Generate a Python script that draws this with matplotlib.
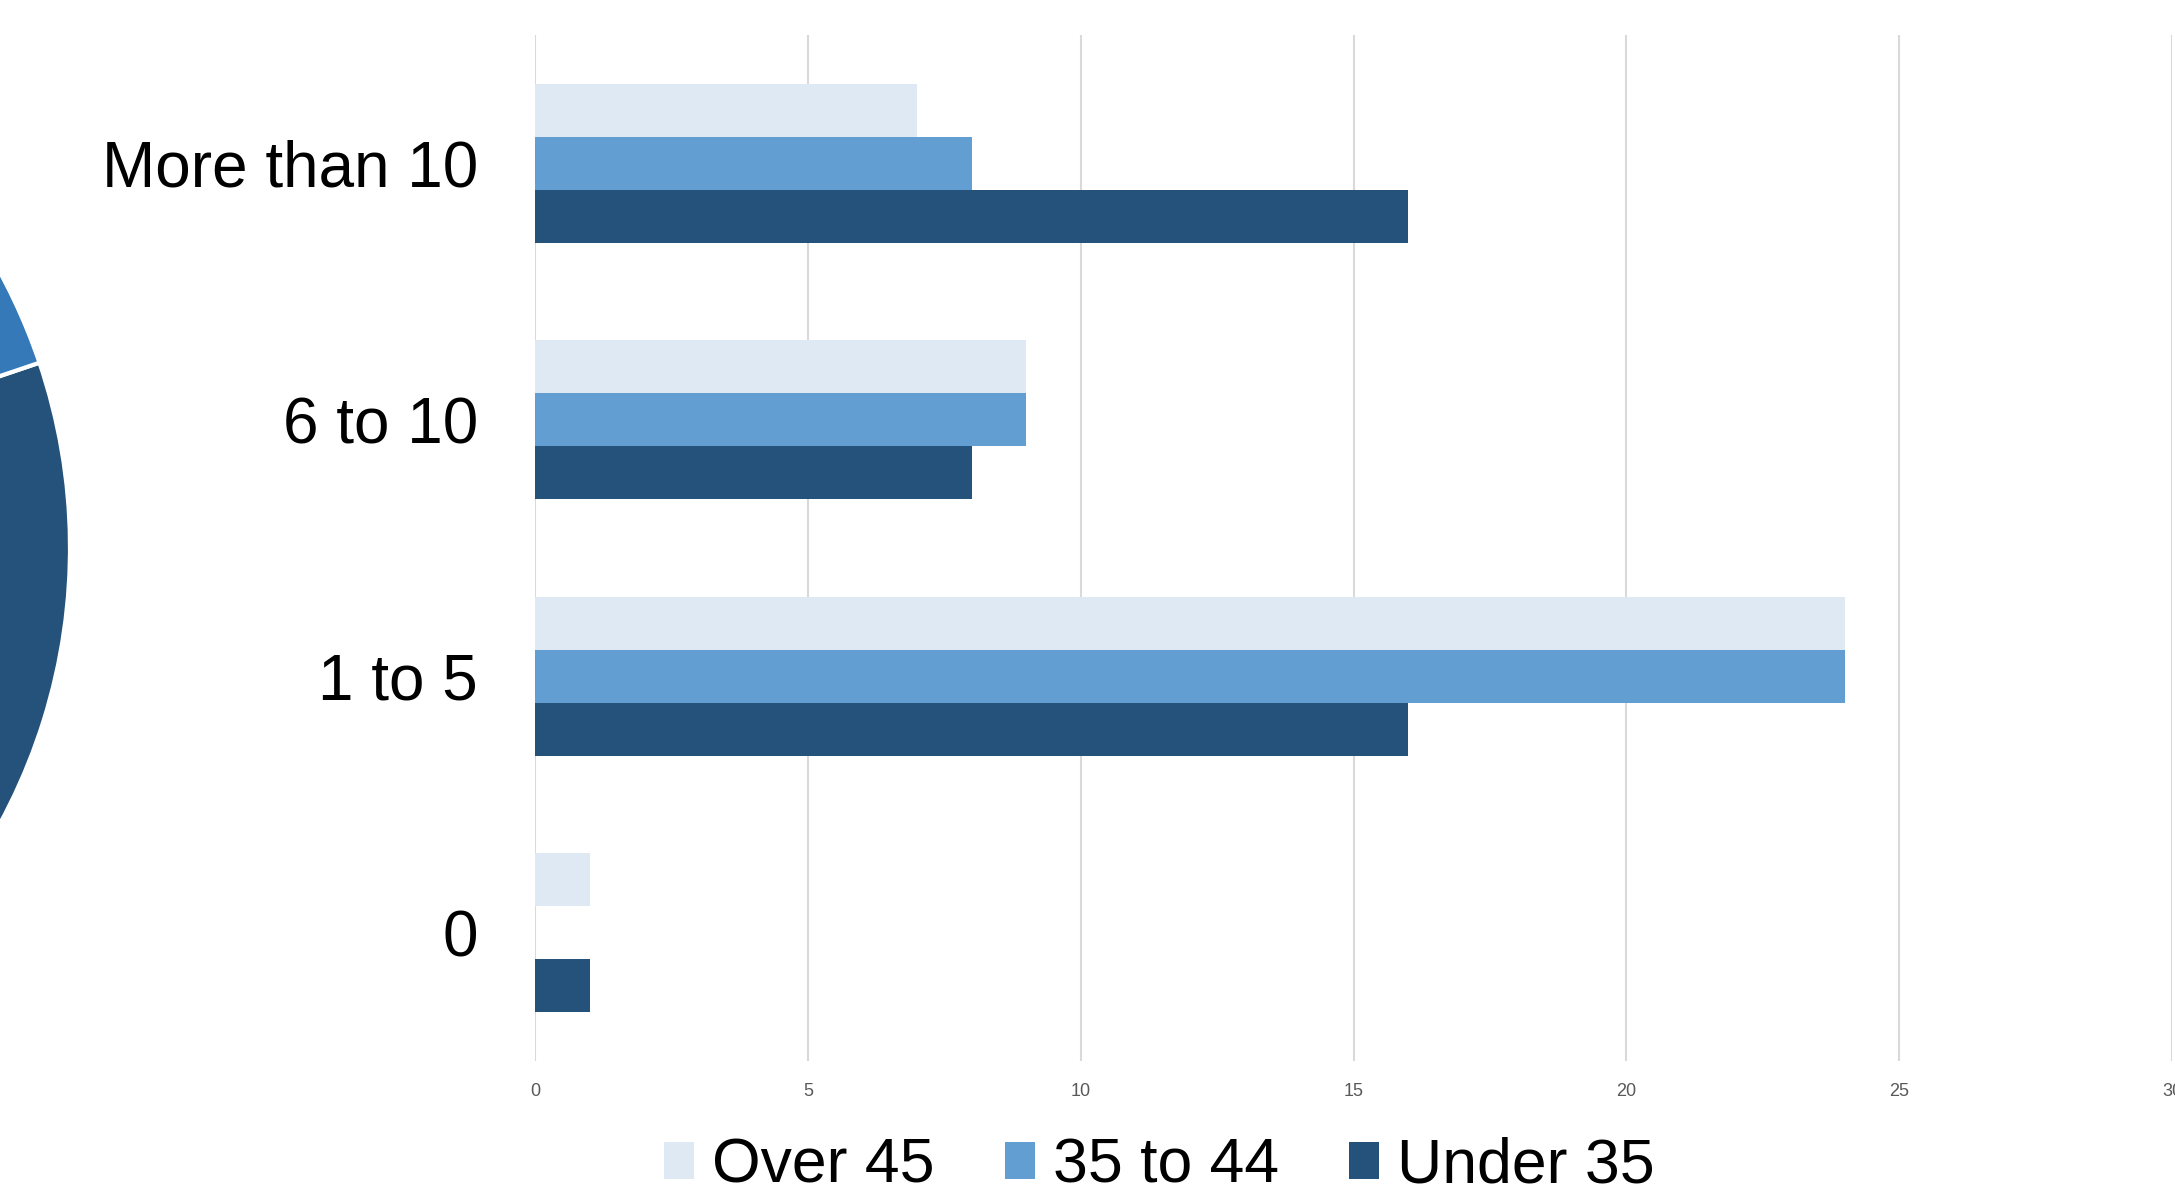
import matplotlib
matplotlib.use("Agg")
import matplotlib.pyplot as plt
import numpy as np

plt.rcParams['font.family'] = ['Liberation Sans', 'DejaVu Sans']

categories = ["0", "1 to 5", "6 to 10", "More than 10"]
series_names = ["Over 45", "35 to 44", "Under 35"]
over_45 = [1, 24, 9, 7]
age_35_44 = [0, 24, 9, 8]
under_35 = [1, 16, 8, 16]
x_ticks = [0, 5, 10, 15, 20, 25, 30]

# pie in background (mostly outside the frame)
pie_values = [40, 15, 15, 30]
pie_colors = ["#24527A", "#8FB4DE", "#C9DAEE", "#3579B8"]

colors = ["#DEE9F4", "#639ED2", "#24527A"]

W, H = 2175, 1201
fig = plt.figure(figsize=(W / 100, H / 100), dpi=100)

# pie axes
cx, cy, R = -508, 1201 - 548, 578
pax = fig.add_axes([(cx - R) / W, (cy - R) / H, 2 * R / W, 2 * R / H])
pax.pie(pie_values, colors=pie_colors, startangle=18.7, counterclock=False,
        radius=1, wedgeprops=dict(edgecolor="white", linewidth=3))
pax.set_xlim(-1, 1)
pax.set_ylim(-1, 1)
pax.set_aspect("auto")
pax.axis("off")

# bar axes
left, right = 535, 2172
bottom, top = 1201 - 1061, 1201 - 35
ax = fig.add_axes([left / W, bottom / H, (right - left) / W, (top - bottom) / H])
y = np.arange(len(categories))
h = 0.206
data = [over_45, age_35_44, under_35]
offsets = [h, 0, -h]
for vals, off, c, name in zip(data, offsets, colors, series_names):
    ax.barh(y + off, vals, height=h, color=c, label=name, zorder=2,
            edgecolor=c, linewidth=0)

ax.set_xlim(0, 30)
ax.set_ylim(-0.5, 3.5)
ax.set_xticks(x_ticks)
ax.set_xticklabels([str(t) for t in x_ticks], fontsize=13, color="#595959")
ax.set_yticks(y)
ax.set_yticklabels(categories, fontsize=46, color="black")
ax.tick_params(axis="y", length=0, pad=41)
ax.tick_params(axis="x", length=0, pad=16)
ax.grid(axis="x", color="#D9D9D9", linewidth=1.5, zorder=0)
for s in ax.spines.values():
    s.set_visible(False)

handles, labels = ax.get_legend_handles_labels()
fig.legend(handles, labels, loc="center", bbox_to_anchor=(0.533, 0.029), ncol=3,
           frameon=False, fontsize=45, handlelength=0.48, handleheight=0.55,
           handletextpad=0.29, columnspacing=1.12, borderpad=0, borderaxespad=0)

fig.savefig("out.png", dpi=100)
